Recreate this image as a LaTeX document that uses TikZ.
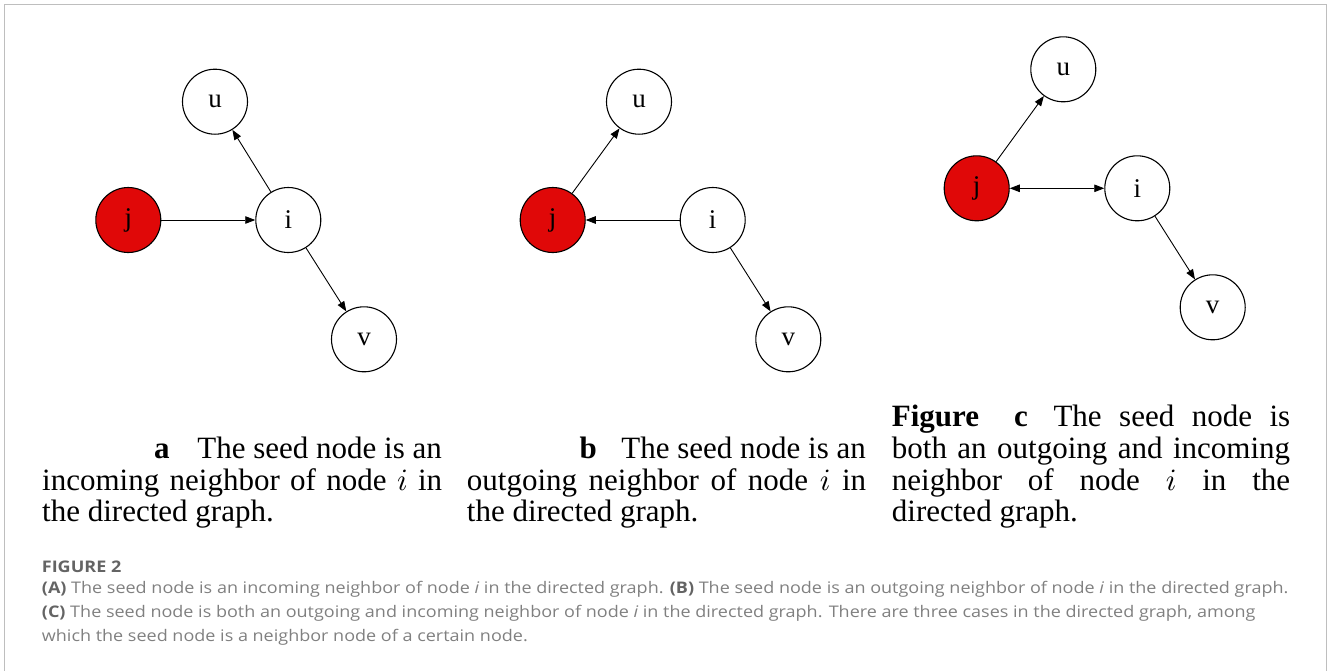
\documentclass[tikz,border=0pt]{standalone}
\usepackage{fontspec}
\setmainfont{Liberation Serif}
\newfontfamily\capsans{Open Sans}
\DeclareFontFamily{OML}{cmm}{\skewchar\font'177}
\DeclareFontShape{OML}{cmm}{m}{it}{<->cmmi10}{}
\usetikzlibrary{arrows.meta}
\definecolor{seedred}{RGB}{224,8,8}
\definecolor{capgray}{RGB}{128,128,128}
\definecolor{capdark}{RGB}{100,100,100}
\definecolor{framegray}{RGB}{190,190,190}
\newcommand\capsc[1]{\scalebox{1.125}[1]{#1}}
\begin{document}
\begin{tikzpicture}[x=1pt,y=-1pt,
  gnode/.style={circle, draw, line width=1.1pt, minimum size=65pt, inner sep=0pt, font=\fontsize{27}{27}\selectfont},
  seed/.style={gnode, fill=seedred},
  edge/.style={line width=0.9pt, -{Triangle[length=10pt,width=7.5pt]}},
  bedge/.style={line width=0.9pt, {Triangle[length=10pt,width=7.5pt]}-{Triangle[length=10pt,width=7.5pt]}},
  capline/.style={anchor=base west, inner sep=0pt, font=\fontsize{31}{32}\selectfont},
  gcap/.style={anchor=base west, inner sep=0pt, text=capgray, font=\capsans\fontsize{16}{18}\selectfont}
]
\useasboundingbox (0,0) rectangle (1328,670);
% frame
\draw[framegray, line width=1.3pt] (4.5,672) -- (4.5,4.5) -- (1326.5,4.5) -- (1326.5,672);

% panel a
\node[gnode] (ua) at (215,101.7) {u};
\node[seed]  (ja) at (128.3,220) {j};
\node[gnode] (ia) at (288.3,220) {i};
\node[gnode] (va) at (364,339.3) {v};
\draw[edge] (ia) -- (ua);
\draw[edge] (ja) -- (ia);
\draw[edge] (ia) -- (va);

% panel b
\node[gnode] (ub) at (639,101.7) {u};
\node[seed]  (jb) at (552.7,220) {j};
\node[gnode] (ib) at (712.7,220) {i};
\node[gnode] (vb) at (788.3,339.3) {v};
\draw[edge] (jb) -- (ub);
\draw[edge] (ib) -- (jb);
\draw[edge] (ib) -- (vb);

% panel c
\node[gnode] (uc) at (1063.3,69.3) {u};
\node[seed]  (jc) at (976.7,188.3) {j};
\node[gnode] (ic) at (1137.3,188.3) {i};
\node[gnode] (vc) at (1212.7,307.3) {v};
\draw[edge] (jc) -- (uc);
\draw[bedge] (jc) -- (ic);
\draw[edge] (ic) -- (vc);

% caption a
\node[capline] (a1) at (154,458.5) {\textbf{a}};
\node[capline, anchor=base east] (a1t) at (442,458.5) {The seed node is an};
\node[capline] (a2) at (42,490) {\makebox[400pt][s]{incoming neighbor of node $i$ in}};
\node[capline] (a3) at (42,521.5) {the directed graph.};

% caption b
\node[capline] (b1) at (579.3,458.5) {\textbf{b}};
\node[capline, anchor=base east] (b1t) at (866,458.5) {The seed node is an};
\node[capline] (b2) at (466.7,490) {\makebox[399.3pt][s]{outgoing neighbor of node $i$ in}};
\node[capline] (b3) at (466.7,521.5) {the directed graph.};

% caption c
\node[capline] (c0) at (891.7,426) {\textbf{Figure}};
\node[capline] (c1) at (1014,426) {\textbf{c}};
\node[capline] (c1t) at (1053.3,426) {\makebox[236.7pt][s]{The seed node is}};
\node[capline] (c2) at (891.7,458.5) {\makebox[398.3pt][s]{both an outgoing and incoming}};
\node[capline] (c3) at (891.7,490) {\makebox[398.3pt][s]{neighbor of node $i$ in the}};
\node[capline] (c4) at (891.7,521.5) {directed graph.};

% figure caption
\node[gcap] (fig) at (41.7,572.7) {\capsc{\textcolor{capdark}{\bfseries FIGURE 2}}};
\node[gcap] (capl1) at (41.7,593.3) {\capsc{\textcolor{capdark}{\bfseries(A)} The seed node is an incoming neighbor of node \textit{i} in the directed graph. \textcolor{capdark}{\bfseries(B)} The seed node is an outgoing neighbor of node \textit{i} in the directed graph.}};
\node[gcap] (capl2) at (41.7,617.7) {\capsc{\textcolor{capdark}{\bfseries(C)} The seed node is both an outgoing and incoming neighbor of node \textit{i} in the directed graph. There are three cases in the directed graph, among}};
\node[gcap] (capl3) at (41.7,641.7) {\capsc{which the seed node is a neighbor node of a certain node.}};
\end{tikzpicture}
\end{document}
